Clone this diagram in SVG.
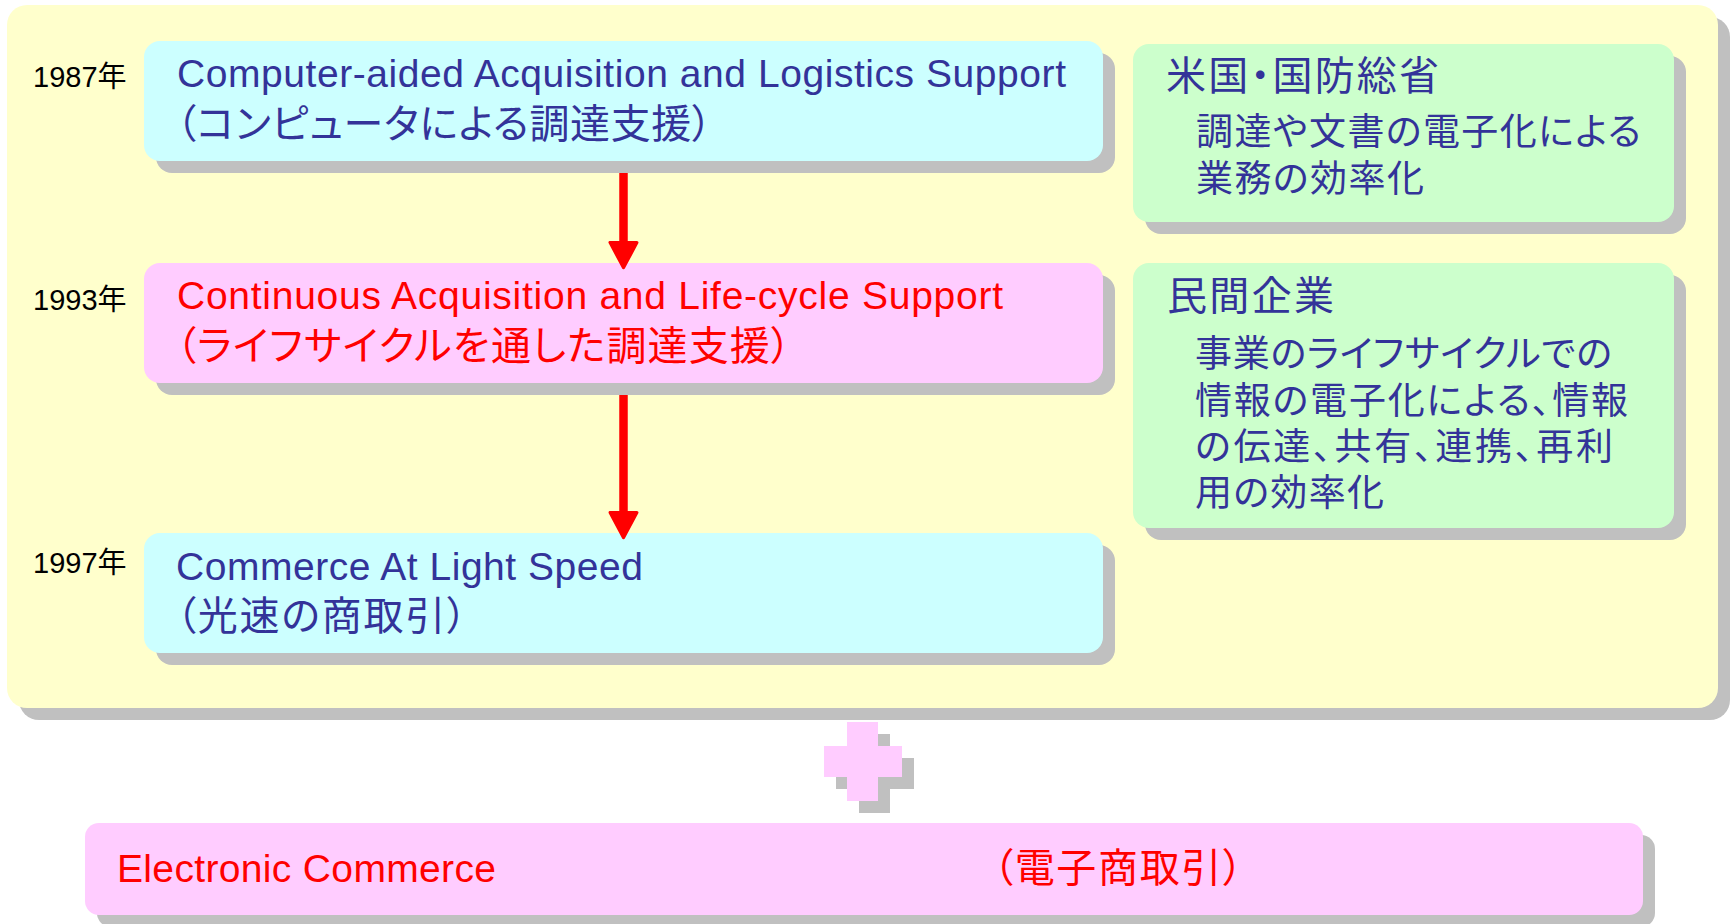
<svg xmlns="http://www.w3.org/2000/svg" width="1735" height="924" viewBox="0 0 1735 924">
  <style>
    .shadow{fill:#C0C0C0}
    .panel{fill:#FFFFCC}
    .cyan{fill:#CCFFFF}
    .pink{fill:#FFCCFF}
    .green{fill:#CCFFCC}
    text{font-family:"Liberation Sans","Noto Sans CJK JP",sans-serif}
    .jp{font-feature-settings:"palt" 1}
    .en{font-size:39px}
    .jl{font-size:40px}
    .h{font-size:40px}
    .b{font-size:37px}
    .blue{fill:#333399}
    .red{fill:#FF0000}
    .year{font-size:29px;fill:#000000}
    .arrow{stroke:#FF0000;stroke-width:8.5;fill:none}
  </style>
  <defs>
    <marker id="head" markerUnits="userSpaceOnUse" markerWidth="30" markerHeight="30" viewBox="0 0 27 27" refX="10" refY="13.5" orient="auto" overflow="visible">
      <path d="M1.5,1.5 L24,13.5 L1.5,25.5 Z" fill="#FF0000" stroke="#FF0000" stroke-width="3" stroke-linejoin="round"/>
    </marker>
  </defs>

  <g id="panel">
    <rect class="shadow" x="19" y="17" width="1711" height="703" rx="20"/>
    <rect class="panel" x="7" y="5" width="1711" height="703" rx="20"/>
  </g>

  <g id="year-1987"><text class="year" x="33" y="87">1987年</text></g>
  <g id="year-1993"><text class="year" x="33" y="310">1993年</text></g>
  <g id="year-1997"><text class="year" x="33" y="573">1997年</text></g>

  <g id="node-cals-1987">
    <rect class="shadow" x="156" y="53" width="959" height="120" rx="16"/>
    <rect class="cyan" x="144" y="41" width="959" height="120" rx="16"/>
    <text class="en blue" x="177" y="87" textLength="889">Computer-aided Acquisition and Logistics Support</text>
    <text class="jp jl blue" x="176" y="138" textLength="536">（コンピュータによる調達支援）</text>
  </g>

  <g id="node-cals-1993">
    <rect class="shadow" x="156" y="275" width="959" height="120" rx="16"/>
    <rect class="pink" x="144" y="263" width="959" height="120" rx="16"/>
    <text class="en red" x="177" y="309" textLength="826">Continuous Acquisition and Life-cycle Support</text>
    <text class="jp jl red" x="176" y="360" textLength="615">（ライフサイクルを通した調達支援）</text>
  </g>

  <g id="node-cals-1997">
    <rect class="shadow" x="156" y="545" width="959" height="120" rx="16"/>
    <rect class="cyan" x="144" y="533" width="959" height="120" rx="16"/>
    <text class="en blue" x="176" y="580" textLength="467">Commerce At Light Speed</text>
    <text class="jp jl blue" x="176" y="630" textLength="291">（光速の商取引）</text>
  </g>

  <g id="node-dod">
    <rect class="shadow" x="1145" y="56" width="541" height="178" rx="16"/>
    <rect class="green" x="1133" y="44" width="541" height="178" rx="16"/>
    <text class="jp h blue" x="1166" y="90" textLength="273">米国・国防総省</text>
    <text class="jp b blue" x="1196" y="145" textLength="445">調達や文書の電子化による</text>
    <text class="jp b blue" x="1196" y="192" textLength="228">業務の効率化</text>
  </g>

  <g id="node-private">
    <rect class="shadow" x="1145" y="275" width="541" height="265" rx="16"/>
    <rect class="green" x="1133" y="263" width="541" height="265" rx="16"/>
    <text class="jp h blue" x="1167" y="310" textLength="167">民間企業</text>
    <text class="jp b blue" x="1195" y="367" textLength="417">事業のライフサイクルでの</text>
    <text class="jp b blue" x="1195" y="414" textLength="433">情報の電子化による、情報</text>
    <text class="jp b blue" x="1195" y="460" textLength="418">の伝達、共有、連携、再利</text>
    <text class="jp b blue" x="1195" y="506" textLength="189">用の効率化</text>
  </g>

  <g id="connectors">
    <line class="arrow" x1="623.5" y1="173" x2="623.5" y2="252" marker-end="url(#head)"/>
    <line class="arrow" x1="623.5" y1="395" x2="623.5" y2="522" marker-end="url(#head)"/>
  </g>

  <g id="plus">
    <rect class="shadow" x="859" y="734" width="31" height="79"/>
    <rect class="shadow" x="836" y="758" width="78" height="31"/>
    <rect class="pink" x="847" y="722" width="31" height="79"/>
    <rect class="pink" x="824" y="746" width="78" height="31"/>
  </g>

  <g id="node-ec">
    <rect class="shadow" x="97" y="835" width="1558" height="92" rx="14"/>
    <rect class="pink" x="85" y="823" width="1558" height="92" rx="14"/>
    <text class="en red" x="117" y="882" textLength="379">Electronic Commerce</text>
    <text class="jp jl red" x="993" y="882" textLength="250">（電子商取引）</text>
  </g>
</svg>
